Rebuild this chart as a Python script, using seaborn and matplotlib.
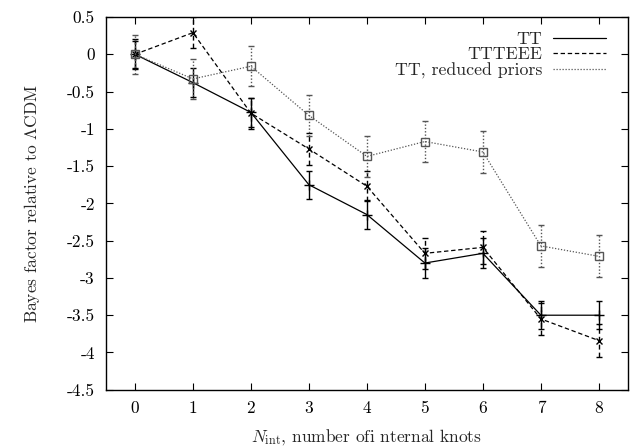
import matplotlib
matplotlib.use("Agg")
import matplotlib.pyplot as plt
import seaborn as sns
import numpy as np
import pandas as pd
from matplotlib.lines import Line2D

knots = [0, 1, 2, 3, 4, 5, 6, 7, 8]
tt = [0.0, -0.38, -0.78, -1.75, -2.15, -2.80, -2.67, -3.50, -3.50]
tt_err = [0.20, 0.19, 0.20, 0.19, 0.19, 0.20, 0.20, 0.19, 0.19]
ttteee = [0.0, 0.29, -0.79, -1.27, -1.77, -2.67, -2.59, -3.55, -3.84]
ttteee_err = [0.18, 0.21, 0.21, 0.21, 0.20, 0.21, 0.22, 0.21, 0.22]
reduced = [0.0, -0.33, -0.16, -0.82, -1.37, -1.17, -1.31, -2.57, -2.71]
reduced_err = [0.26, 0.27, 0.27, 0.27, 0.27, 0.28, 0.28, 0.28, 0.28]
series_names = ["TT", "TTTEEE", "TT, reduced priors"]
yticks = [0.5, 0, -0.5, -1, -1.5, -2, -2.5, -3, -3.5, -4, -4.5]
ytick_labels = ["0.5", "0", "-0.5", "-1", "-1.5", "-2", "-2.5", "-3", "-3.5", "-4", "-4.5"]

sns.set_theme(style="ticks")
plt.rcParams["font.family"] = ["cmr10", "DejaVu Serif"]
plt.rcParams["mathtext.fontset"] = "cm"
plt.rcParams["axes.unicode_minus"] = False
plt.rcParams["axes.formatter.use_mathtext"] = True

fig = plt.figure(figsize=(6.42, 4.48), dpi=100)
ax = fig.add_axes([0.165, 0.13, 0.813, 0.832])

data = pd.DataFrame({"knots": knots * 3,
                     "value": tt + ttteee + reduced,
                     "err": tt_err + ttteee_err + reduced_err,
                     "series": [series_names[0]] * 9 + [series_names[1]] * 9 + [series_names[2]] * 9})

styles = {
    "TT": dict(color="black", ls="-", marker="+", ms=7),
    "TTTEEE": dict(color="black", ls=(0, (3.5, 2.2)), marker="x", ms=5),
    "TT, reduced priors": dict(color="#555555", ls=(0, (1, 1.4)), marker="s", ms=6),
}

for name in series_names:
    d = data[data.series == name]
    st = styles[name]
    sns.lineplot(data=d, x="knots", y="value", ax=ax, color=st["color"],
                 linestyle=st["ls"], marker=st["marker"], markersize=st["ms"],
                 markerfacecolor="none", markeredgecolor=st["color"],
                 markeredgewidth=1.0, linewidth=0.9, label=name, legend=False)
    eb = ax.errorbar(d["knots"], d["value"], yerr=d["err"], fmt="none",
                     ecolor=st["color"], elinewidth=1.0, capsize=2.3, capthick=1.0)
    for lc in eb[2]:
        lc.set_linestyle(st["ls"])

ax.set_xlim(-0.5, 8.5)
ax.set_ylim(-4.5, 0.5)
ax.set_xticks(knots)
ax.set_xticklabels([str(k) for k in knots])
ax.set_yticks(yticks)
ax.set_yticklabels(ytick_labels)
ax.tick_params(direction="in", top=True, right=True, length=5, width=0.8,
               labelsize=12.5, colors="black", pad=8)
for sp in ax.spines.values():
    sp.set_linewidth(1.0)
    sp.set_color("black")

ax.set_xlabel(r"$N_{\rm int}$, number ofi nternal knots", fontsize=12.5, labelpad=8)
ax.set_ylabel(r"Bayes factor relative to $\Lambda$CDM", fontsize=12.5, labelpad=18)

handles = [Line2D([], [], color=styles[n]["color"], linestyle=styles[n]["ls"], linewidth=0.9)
           for n in series_names]
leg = ax.legend(handles, series_names, loc="upper right", frameon=False,
                bbox_to_anchor=(0.972, 0.98), borderaxespad=0.0,
                markerfirst=False, prop={"size": 12.8}, handlelength=3.0,
                handletextpad=0.6, labelspacing=0.0)
for t in leg.get_texts():
    t.set_ha("right")

fig.savefig("out.png", dpi=100)
